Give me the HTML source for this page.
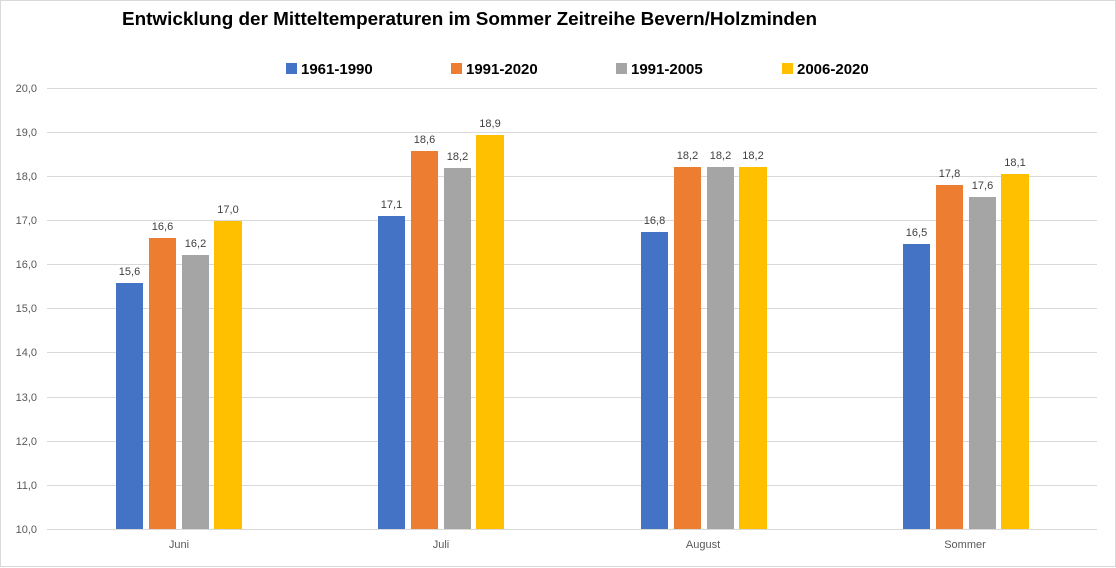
<!DOCTYPE html>
<html><head><meta charset="utf-8"><style>
html,body{margin:0;padding:0;background:#fff}
svg{display:block;font-family:"Liberation Sans",sans-serif}
</style></head><body>
<svg width="1116" height="568" viewBox="0 0 1116 568" xmlns="http://www.w3.org/2000/svg">
<rect x="0.5" y="0.5" width="1115" height="566" fill="#fff" stroke="#d9d9d9"/>
<text x="469.5" y="25" text-anchor="middle" font-size="18" font-weight="bold" fill="#000" textLength="695" lengthAdjust="spacingAndGlyphs">Entwicklung der Mitteltemperaturen im Sommer Zeitreihe Bevern/Holzminden</text>
<g font-size="15" font-weight="bold" fill="#000">
<rect x="286" y="63" width="11" height="11" fill="#4472c4"/><text x="301" y="74">1961-1990</text>
<rect x="451" y="63" width="11" height="11" fill="#ed7d31"/><text x="466" y="74">1991-2020</text>
<rect x="616" y="63" width="11" height="11" fill="#a5a5a5"/><text x="631" y="74">1991-2005</text>
<rect x="782" y="63" width="11" height="11" fill="#ffc000"/><text x="797" y="74">2006-2020</text>
</g>
<g stroke="#d9d9d9" stroke-width="1">
<line x1="47" x2="1097" y1="88.5" y2="88.5"/><line x1="47" x2="1097" y1="132.5" y2="132.5"/>
<line x1="47" x2="1097" y1="176.5" y2="176.5"/><line x1="47" x2="1097" y1="220.5" y2="220.5"/>
<line x1="47" x2="1097" y1="264.5" y2="264.5"/><line x1="47" x2="1097" y1="308.5" y2="308.5"/>
<line x1="47" x2="1097" y1="352.5" y2="352.5"/><line x1="47" x2="1097" y1="397.5" y2="397.5"/>
<line x1="47" x2="1097" y1="441.5" y2="441.5"/><line x1="47" x2="1097" y1="485.5" y2="485.5"/>
<line x1="47" x2="1097" y1="529.5" y2="529.5"/>
</g>
<g font-size="11" fill="#595959" text-anchor="end">
<text x="37" y="92">20,0</text><text x="37" y="136">19,0</text><text x="37" y="180">18,0</text>
<text x="37" y="224">17,0</text><text x="37" y="268">16,0</text><text x="37" y="312">15,0</text>
<text x="37" y="356">14,0</text><text x="37" y="401">13,0</text><text x="37" y="445">12,0</text>
<text x="37" y="489">11,0</text><text x="37" y="533">10,0</text>
</g>
<g font-size="11" fill="#595959" text-anchor="middle">
<text x="179" y="548">Juni</text><text x="441" y="548">Juli</text>
<text x="703" y="548">August</text><text x="965" y="548">Sommer</text>
</g>
<g>
<rect x="116" y="283" width="27" height="246" fill="#4472c4"/>
<rect x="149" y="238" width="27" height="291" fill="#ed7d31"/>
<rect x="182" y="255" width="27" height="274" fill="#a5a5a5"/>
<rect x="214" y="221" width="28" height="308" fill="#ffc000"/>
<rect x="378" y="216" width="27" height="313" fill="#4472c4"/>
<rect x="411" y="151" width="27" height="378" fill="#ed7d31"/>
<rect x="444" y="168" width="27" height="361" fill="#a5a5a5"/>
<rect x="476" y="135" width="28" height="394" fill="#ffc000"/>
<rect x="641" y="232" width="27" height="297" fill="#4472c4"/>
<rect x="674" y="167" width="27" height="362" fill="#ed7d31"/>
<rect x="707" y="167" width="27" height="362" fill="#a5a5a5"/>
<rect x="739" y="167" width="28" height="362" fill="#ffc000"/>
<rect x="903" y="244" width="27" height="285" fill="#4472c4"/>
<rect x="936" y="185" width="27" height="344" fill="#ed7d31"/>
<rect x="969" y="197" width="27" height="332" fill="#a5a5a5"/>
<rect x="1001" y="174" width="28" height="355" fill="#ffc000"/>
</g>
<g font-size="11" fill="#404040" text-anchor="middle">
<text x="129.5" y="275">15,6</text><text x="162.5" y="230">16,6</text><text x="195.5" y="247">16,2</text><text x="228" y="213">17,0</text>
<text x="391.5" y="208">17,1</text><text x="424.5" y="143">18,6</text><text x="457.5" y="160">18,2</text><text x="490" y="127">18,9</text>
<text x="654.5" y="224">16,8</text><text x="687.5" y="159">18,2</text><text x="720.5" y="159">18,2</text><text x="753" y="159">18,2</text>
<text x="916.5" y="236">16,5</text><text x="949.5" y="177">17,8</text><text x="982.5" y="189">17,6</text><text x="1015" y="166">18,1</text>
</g>
</svg>
</body></html>
